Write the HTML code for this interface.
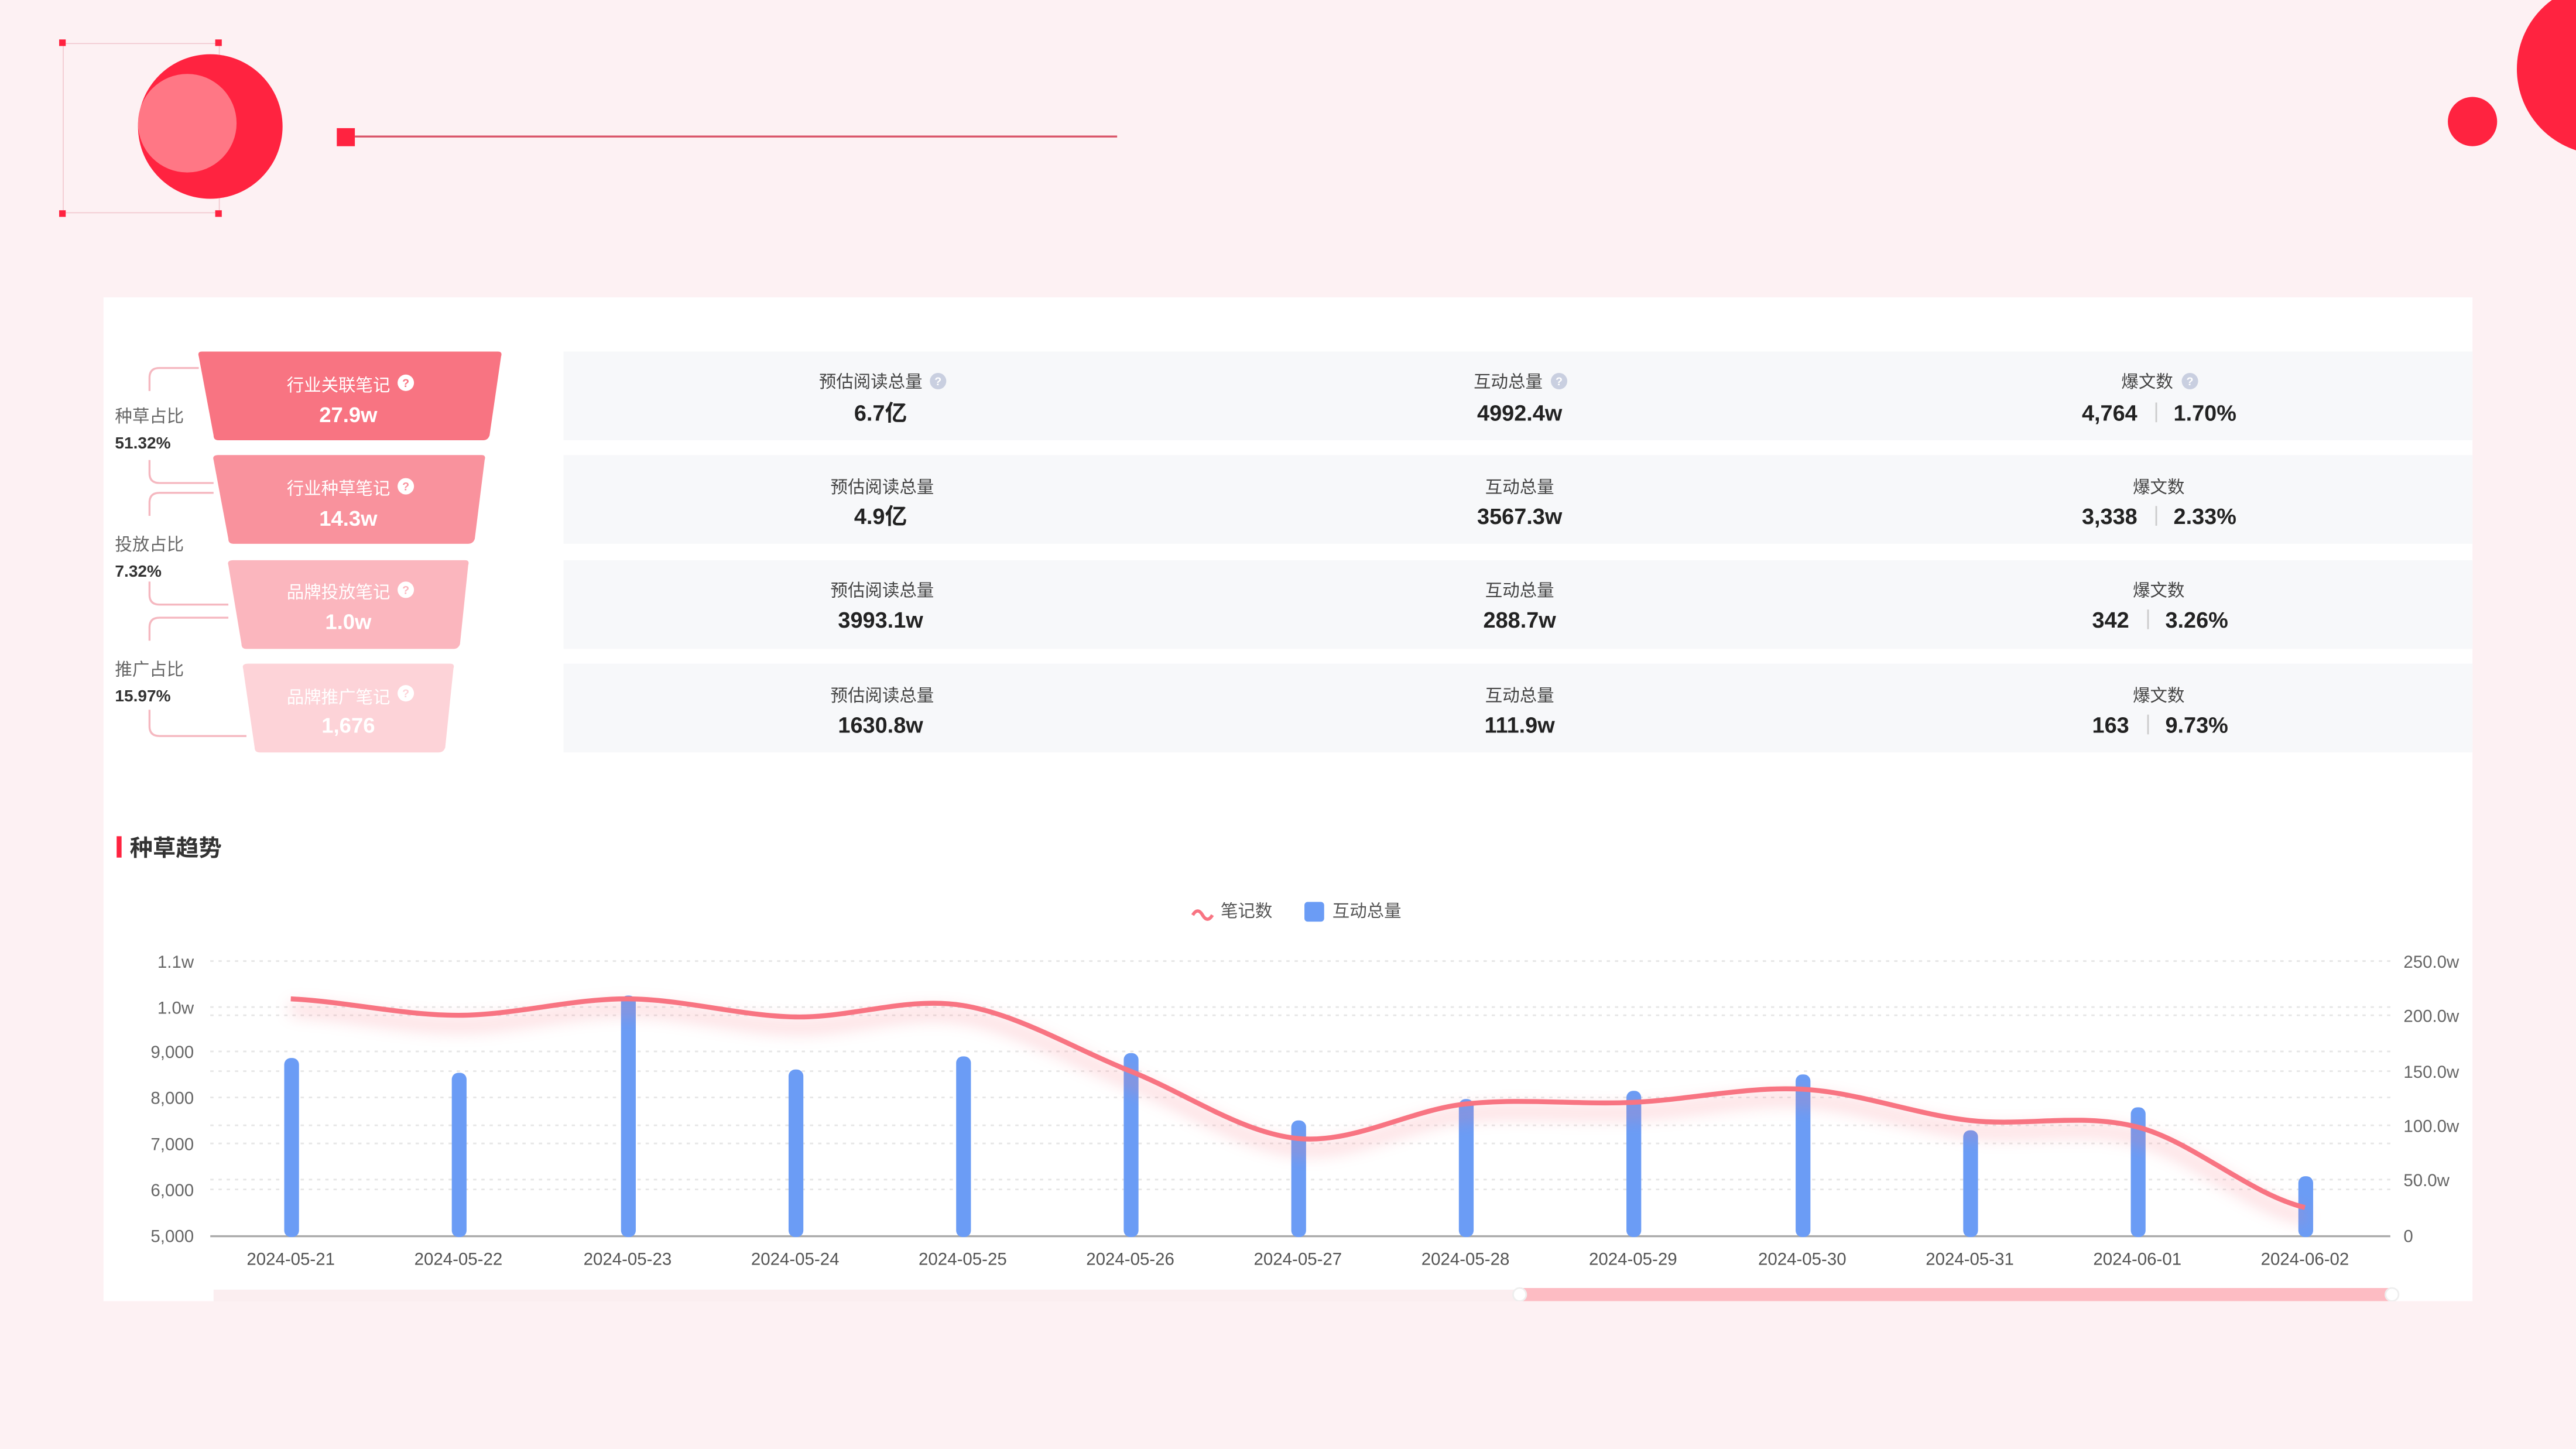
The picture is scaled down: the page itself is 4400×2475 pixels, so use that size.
<!DOCTYPE html>
<html><head><meta charset="utf-8"><style>
html,body{margin:0;padding:0;background:#fdf1f3;}
svg{display:block;}
text{font-family:"Liberation Sans","Noto Sans CJK SC",sans-serif;}
</style></head><body>
<svg width="4400" height="2475" viewBox="0 0 1568 882" xmlns="http://www.w3.org/2000/svg">
<defs>
<filter id="sh" x="-10%" y="-50%" width="120%" height="200%"><feGaussianBlur stdDeviation="5"/></filter>
</defs>
<rect width="1568" height="882" fill="#fdf1f3"/>
<rect x="38.5" y="26.5" width="95" height="103" fill="none" stroke="#f2c8cf" stroke-width="0.6"/>
<rect x="36" y="24" width="4" height="4" fill="#ff2340"/><rect x="131" y="24" width="4" height="4" fill="#ff2340"/>
<rect x="36" y="128" width="4" height="4" fill="#ff2340"/><rect x="131" y="128" width="4" height="4" fill="#ff2340"/>
<circle cx="128" cy="77" r="44" fill="#ff2340"/>
<circle cx="114" cy="75" r="30" fill="#ff7785"/>
<rect x="205" y="78" width="11" height="11" fill="#ff2340"/>
<rect x="216" y="82.5" width="464" height="1.2" fill="#d95468"/>
<circle cx="1584" cy="42" r="52" fill="#ff2340"/>
<circle cx="1505" cy="74" r="15" fill="#ff2340"/>
<rect x="63" y="181" width="1442" height="611" fill="#ffffff"/>
<g fill="#f7f8fa">
<rect x="343" y="214" width="1162" height="54"/>
<rect x="343" y="277" width="1162" height="54"/>
<rect x="343" y="341" width="1162" height="54"/>
<rect x="343" y="404" width="1162" height="54"/>
</g>
<g fill="none" stroke="#f5b8c0" stroke-width="1.2">
<path d="M121 224 H97 Q91 224 91 230 V238"/>
<path d="M91 280 V288 Q91 294 97 294 H130"/>
<path d="M130 300 H97 Q91 300 91 306 V314"/>
<path d="M91 354 V362 Q91 368 97 368 H139"/>
<path d="M139 376 H97 Q91 376 91 382 V390"/>
<path d="M91 432 V442 Q91 448 97 448 H150"/>
</g>
<g font-size="10.5" fill="#666"><text x="70" y="257">种草占比</text><text x="70" y="335">投放占比</text><text x="70" y="411">推广占比</text></g>
<g font-size="10" fill="#333" font-weight="bold"><text x="70" y="273">51.32%</text><text x="70" y="351">7.32%</text><text x="70" y="427">15.97%</text></g>
<path d="M123 214 H303 Q306 214 305 217 L298 265 Q297 268 294 268 H133 Q130 268 130 265 L121 217 Q120 214 123 214Z" fill="#f87482"/>
<path d="M133 277 H293 Q296 277 295 280 L289 328 Q288 331 285 331 H142 Q139 331 139 328 L130 280 Q129 277 133 277Z" fill="#f9929d"/>
<path d="M142 341 H283 Q286 341 285 344 L280 392 Q279 395 276 395 H150 Q147 395 147 392 L139 344 Q138 341 142 341Z" fill="#fbb6be"/>
<path d="M151 404 H274 Q277 404 276 407 L271 455 Q270 458 267 458 H158 Q155 458 155 455 L148 407 Q147 404 151 404Z" fill="#fdd3d8"/>
<g font-size="10.5" fill="#fff" text-anchor="middle">
<text x="206" y="238">行业关联笔记</text><text x="206" y="301">行业种草笔记</text><text x="206" y="364">品牌投放笔记</text><text x="206" y="428">品牌推广笔记</text>
</g>
<g fill="#fff"><circle cx="247" cy="233" r="5"/><circle cx="247" cy="296" r="5"/><circle cx="247" cy="359" r="5"/><circle cx="247" cy="422" r="5"/></g>
<g font-size="7" fill="#f87482" font-weight="bold" text-anchor="middle">
<text x="247" y="235.5">?</text><text x="247" y="298.5" fill="#f9929d">?</text><text x="247" y="361.5" fill="#fbb6be">?</text><text x="247" y="424.5" fill="#fdd3d8">?</text>
</g>
<g font-size="13" fill="#fff" font-weight="bold" text-anchor="middle">
<text x="212" y="257">27.9w</text><text x="212" y="320">14.3w</text><text x="212" y="383">1.0w</text><text x="212" y="446">1,676</text>
</g>
<g font-size="10.5" fill="#444" text-anchor="middle">
<text x="530" y="236">预估阅读总量</text><text x="918" y="236">互动总量</text><text x="1307" y="236">爆文数</text>
<text x="537" y="300">预估阅读总量</text><text x="925" y="300">互动总量</text><text x="1314" y="300">爆文数</text>
<text x="537" y="363">预估阅读总量</text><text x="925" y="363">互动总量</text><text x="1314" y="363">爆文数</text>
<text x="537" y="427">预估阅读总量</text><text x="925" y="427">互动总量</text><text x="1314" y="427">爆文数</text>
</g>
<g fill="#c9cfe0"><circle cx="571" cy="232" r="5"/><circle cx="949" cy="232" r="5"/><circle cx="1333" cy="232" r="5"/></g>
<g font-size="7" fill="#fff" font-weight="bold" text-anchor="middle"><text x="571" y="234.5">?</text><text x="949" y="234.5">?</text><text x="1333" y="234.5">?</text></g>
<g font-size="13.5" fill="#222" font-weight="bold" text-anchor="middle">
<text x="536" y="256">6.7亿</text><text x="925" y="256">4992.4w</text>
<text x="536" y="319">4.9亿</text><text x="925" y="319">3567.3w</text>
<text x="536" y="382">3993.1w</text><text x="925" y="382">288.7w</text>
<text x="536" y="446">1630.8w</text><text x="925" y="446">111.9w</text>
</g>
<g font-size="13.5" fill="#222" font-weight="bold">
<text x="1301" y="256" text-anchor="end">4,764</text><text x="1323" y="256">1.70%</text>
<text x="1301" y="319" text-anchor="end">3,338</text><text x="1323" y="319">2.33%</text>
<text x="1296" y="382" text-anchor="end">342</text><text x="1318" y="382">3.26%</text>
<text x="1296" y="446" text-anchor="end">163</text><text x="1318" y="446">9.73%</text>
</g>
<g fill="#ccc"><rect x="1312" y="245" width="1" height="12"/><rect x="1312" y="308" width="1" height="12"/><rect x="1307" y="371" width="1" height="12"/><rect x="1307" y="435" width="1" height="12"/></g>
<rect x="71" y="509" width="3" height="13" fill="#ff2340"/>
<text x="79" y="521" font-size="14" font-weight="bold" fill="#333">种草趋势</text>
<path d="M726 557 q3 -5 6 0 t6 0" fill="none" stroke="#f87482" stroke-width="2"/>
<text x="743" y="558" font-size="10.5" fill="#555">笔记数</text>
<rect x="794" y="549" width="12" height="12" rx="2" fill="#6b9cf5"/>
<text x="811" y="558" font-size="10.5" fill="#555">互动总量</text>
<g stroke="#e6e6e6" stroke-width="1" stroke-dasharray="2 3">
<line x1="128" y1="585" x2="1455" y2="585"/><line x1="128" y1="613" x2="1455" y2="613"/>
<line x1="128" y1="618" x2="1455" y2="618"/><line x1="128" y1="640" x2="1455" y2="640"/>
<line x1="128" y1="652" x2="1455" y2="652"/><line x1="128" y1="668" x2="1455" y2="668"/>
<line x1="128" y1="685" x2="1455" y2="685"/><line x1="128" y1="696" x2="1455" y2="696"/>
<line x1="128" y1="718" x2="1455" y2="718"/><line x1="128" y1="724" x2="1455" y2="724"/>
</g>
<line x1="128" y1="752.5" x2="1455" y2="752.5" stroke="#aaa" stroke-width="1.2"/>
<g font-size="10.5" fill="#666" text-anchor="end">
<text x="118" y="589">1.1w</text><text x="118" y="617">1.0w</text><text x="118" y="644">9,000</text><text x="118" y="672">8,000</text><text x="118" y="700">7,000</text><text x="118" y="728">6,000</text><text x="118" y="756">5,000</text>
</g>
<g font-size="10.5" fill="#666">
<text x="1463" y="589">250.0w</text><text x="1463" y="622">200.0w</text><text x="1463" y="656">150.0w</text><text x="1463" y="689">100.0w</text><text x="1463" y="722">50.0w</text><text x="1463" y="756">0</text>
</g>
<g fill="#6b9cf5">
<rect x="173" y="644" width="9" height="109" rx="4"/>
<rect x="275" y="653" width="9" height="100" rx="4"/>
<rect x="378" y="606" width="9" height="147" rx="4"/>
<rect x="480" y="651" width="9" height="102" rx="4"/>
<rect x="582" y="643" width="9" height="110" rx="4"/>
<rect x="684" y="641" width="9" height="112" rx="4"/>
<rect x="786" y="682" width="9" height="71" rx="4"/>
<rect x="888" y="669" width="9" height="84" rx="4"/>
<rect x="990" y="664" width="9" height="89" rx="4"/>
<rect x="1093" y="654" width="9" height="99" rx="4"/>
<rect x="1195" y="688" width="9" height="65" rx="4"/>
<rect x="1297" y="674" width="9" height="79" rx="4"/>
<rect x="1399" y="716" width="9" height="37" rx="4"/>
</g>
<path transform="translate(0,6)" filter="url(#sh)" opacity="0.35" d="M177 608 C211 609.7 245 618 279 618 C313 618 348 607.8 382 608 C416 608.2 450 618.3 484 619 C518 619.7 552 606.5 586 612 C620 617.5 654 638.5 688 652 C722 665.5 756 689.7 790 693 C824 696.3 858 675.7 892 672 C926 668.3 960 672.5 994 671 C1028 669.5 1063 661.2 1097 663 C1131 664.8 1165 678.2 1199 682 C1233 685.8 1267 677.2 1301 686 C1335 694.8 1369 726.8 1403 735" fill="none" stroke="#f87482" stroke-width="6"/>
<path d="M177 608 C211 609.7 245 618 279 618 C313 618 348 607.8 382 608 C416 608.2 450 618.3 484 619 C518 619.7 552 606.5 586 612 C620 617.5 654 638.5 688 652 C722 665.5 756 689.7 790 693 C824 696.3 858 675.7 892 672 C926 668.3 960 672.5 994 671 C1028 669.5 1063 661.2 1097 663 C1131 664.8 1165 678.2 1199 682 C1233 685.8 1267 677.2 1301 686 C1335 694.8 1369 726.8 1403 735" fill="none" stroke="#f87482" stroke-width="3"/>
<rect x="130" y="785" width="1326" height="7" fill="#fbeef0"/>
<rect x="925" y="784" width="531" height="8" fill="#fdbcc3"/>
<circle cx="925" cy="788" r="4" fill="#fff" stroke="#eee"/>
<circle cx="1456" cy="788" r="4" fill="#fff" stroke="#eee"/>
<rect x="0" y="792" width="1568" height="90" fill="#fdf1f3"/>
<g font-size="10.5" fill="#555" text-anchor="middle">
<text x="177" y="770">2024-05-21</text><text x="279" y="770">2024-05-22</text><text x="382" y="770">2024-05-23</text><text x="484" y="770">2024-05-24</text><text x="586" y="770">2024-05-25</text><text x="688" y="770">2024-05-26</text><text x="790" y="770">2024-05-27</text><text x="892" y="770">2024-05-28</text><text x="994" y="770">2024-05-29</text><text x="1097" y="770">2024-05-30</text><text x="1199" y="770">2024-05-31</text><text x="1301" y="770">2024-06-01</text><text x="1403" y="770">2024-06-02</text>
</g>
</svg>
</body></html>
